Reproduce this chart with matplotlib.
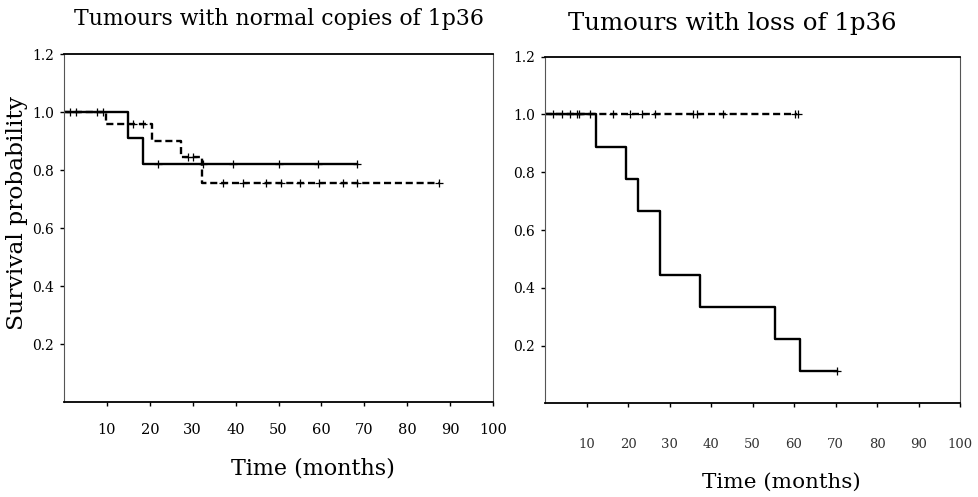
import matplotlib.pyplot as plt

plt.rcParams['font.family'] = ['DejaVu Serif']

# left panel: normal copies of 1p36
norm_solid_t = [0, 15.0, 18.5, 68.4]
norm_solid_s = [1.0, 0.91, 0.82, 0.82]
norm_solid_cens_t = [1.4, 2.9, 7.6, 9.1, 21.9, 32.4, 39.4, 50.2, 59.1, 68.4]
norm_dash_t = [0, 9.9, 20.4, 27.2, 32.2, 87.4]
norm_dash_s = [1.0, 0.96, 0.90, 0.845, 0.755, 0.755]
norm_dash_cens_t = [16.1, 18.4, 28.9, 30.0, 37.0, 41.7, 47.1, 50.6, 54.9, 59.5, 65.0, 68.4, 87.4]

# right panel: loss of 1p36
loss_solid_t = [0, 12.4, 19.6, 22.5, 27.6, 37.3, 55.3, 61.5, 70.3]
loss_solid_s = [1.0, 0.889, 0.778, 0.667, 0.444, 0.333, 0.222, 0.111, 0.111]
loss_solid_cens_t = [2.0, 4.0, 6.0, 7.8, 8.3, 10.8, 70.3]
loss_dash_t = [0, 60.8]
loss_dash_s = [1.0, 1.0]
loss_dash_cens_t = [16.5, 20.5, 23.3, 26.5, 35.7, 36.7, 43.0, 60.2, 61.0]

xticks = [10, 20, 30, 40, 50, 60, 70, 80, 90, 100]
yticks = [0.2, 0.4, 0.6, 0.8, 1.0, 1.2]


def surv_at(t, times, surv):
    val = surv[0]
    for ti, si in zip(times, surv):
        if t >= ti:
            val = si
    return val


def km(ax, times, surv, cens, dashed):
    ls = (0, (3, 1.6)) if dashed else '-'
    ax.step(times, surv, where='post', color='black', lw=1.7, linestyle=ls)
    ax.plot(cens, [surv_at(c, times, surv) for c in cens], linestyle='none',
            marker='+', color='black', ms=6, mew=0.9)


def style(ax, xsize, ysize, tick_pad, xcolor):
    ax.set_xlim(0, 100)
    ax.set_ylim(0, 1.2)
    ax.set_xticks(xticks)
    ax.set_yticks(yticks)
    ax.set_yticklabels(['%.1f' % v for v in yticks])
    ax.tick_params(direction='out', length=3, width=1)
    ax.tick_params(axis='x', pad=tick_pad, labelsize=xsize, labelcolor=xcolor)
    ax.tick_params(axis='y', labelsize=ysize, pad=4)
    for side in ['top', 'bottom']:
        ax.spines[side].set_linewidth(1.3)
    for side in ['left', 'right']:
        ax.spines[side].set_linewidth(0.8)
        ax.spines[side].set_color('#555555')


fig = plt.figure(figsize=(9.79, 4.97), dpi=100)

ax1 = fig.add_axes([0.0654, 0.1911, 0.4382, 0.7002])
km(ax1, norm_dash_t, norm_dash_s, norm_dash_cens_t, True)
km(ax1, norm_solid_t, norm_solid_s, norm_solid_cens_t, False)
style(ax1, 10.5, 10, 12, 'black')
ax1.set_xlabel('Time (months)', fontsize=16, labelpad=15, x=0.58)
ax1.set_ylabel('Survival probability', fontsize=16.8)
ax1.yaxis.set_label_coords(-0.085, 0.543)
ax1.set_title('Tumours with normal copies of 1p36', fontsize=15.8, pad=21)

ax2 = fig.add_axes([0.5567, 0.1885, 0.4239, 0.6974])
km(ax2, loss_dash_t, loss_dash_s, loss_dash_cens_t, True)
km(ax2, loss_solid_t, loss_solid_s, loss_solid_cens_t, False)
style(ax2, 9.5, 10, 22, '#333333')
ax2.set_xlabel('Time (months)', fontsize=15.4, labelpad=16, x=0.57)
ax2.set_title('Tumours with loss of 1p36', fontsize=17.6, pad=19, x=0.45)

fig.savefig('out.png', dpi=100)
